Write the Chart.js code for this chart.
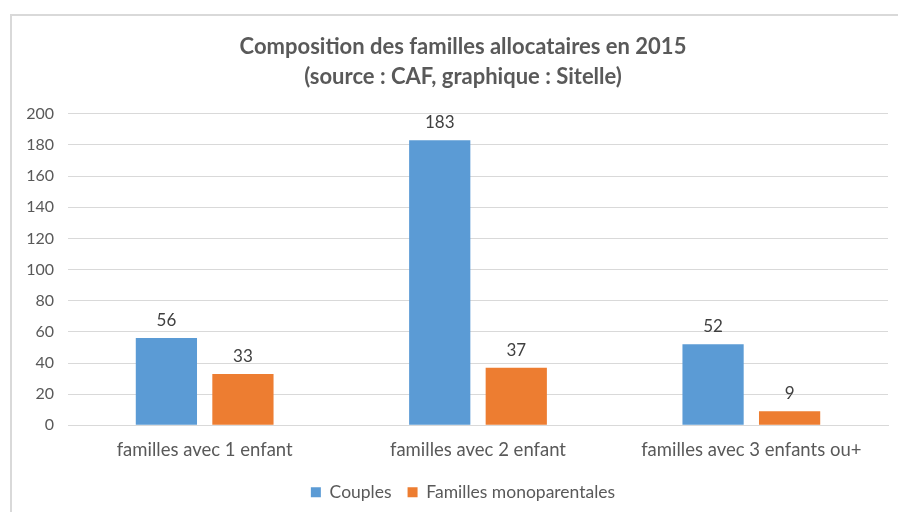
<!DOCTYPE html>
<html>
<head>
<meta charset="utf-8">
<script src="https://cdn.jsdelivr.net/npm/chart.js@4/dist/chart.umd.min.js"></script>
<style>
  body { margin: 0; background: #fff; }
  #wrap { position: relative; width: 898px; height: 512px; }
  #frame { position: absolute; left: 10px; top: 14px; right: 0; bottom: 0; border-left: 2px solid #d9d9d9; border-top: 2px solid #d9d9d9; }
  canvas { position: absolute; left: 0; top: 0; }
</style>
</head>
<body>
<div id="wrap">
  <div id="frame"></div>
  <canvas id="chart" width="898" height="512"></canvas>
</div>
<script>
const categories = ['familles avec 1 enfant', 'familles avec 2 enfant', 'familles avec 3 enfants ou+'];
const couples = [56, 183, 52];
const monoparentales = [33, 37, 9];
const yTicks = [0, 20, 40, 60, 80, 100, 120, 140, 160, 180, 200];

const FONT = 'Lato, "Open Sans", sans-serif';

// value labels above each bar
const barLabels = {
  id: 'barLabels',
  afterDatasetsDraw(chart) {
    const ctx = chart.ctx;
    ctx.save();
    ctx.font = '17px ' + FONT;
    ctx.fillStyle = '#404040';
    ctx.textAlign = 'center';
    ctx.textBaseline = 'bottom';
    chart.data.datasets.forEach((ds, i) => {
      chart.getDatasetMeta(i).data.forEach((bar, j) => {
        ctx.fillText(ds.data[j], bar.x, bar.y - 9);
      });
    });
    ctx.restore();
  }
};

// title and legend are centred a bit right of the canvas centre in the original
const shiftBoxes = {
  id: 'shiftBoxes',
  afterLayout(chart) {
    [chart.titleBlock, chart.legend].forEach(b => {
      if (b) { b.left += 13; b.right += 13; }
    });
  }
};

new Chart(document.getElementById('chart'), {
  type: 'bar',
  data: {
    labels: categories,
    datasets: [
      { label: 'Couples', data: couples, backgroundColor: '#5b9bd5' },
      { label: 'Familles monoparentales', data: monoparentales, backgroundColor: '#ed7d31' }
    ]
  },
  options: {
    responsive: false,
    animation: false,
    layout: { padding: { left: 12, right: 10, top: 8, bottom: 1 } },
    datasets: { bar: { categoryPercentage: 0.56, barPercentage: 0.8 } },
    plugins: {
      title: {
        display: true,
        text: ['Composition des familles allocataires en 2015', '(source : CAF, graphique : Sitelle)'],
        color: '#595959',
        font: { family: FONT, size: 22, weight: 'bold', lineHeight: 1.36 },
        padding: { top: 24, bottom: 22 }
      },
      legend: {
        position: 'bottom',
        labels: {
          color: '#595959',
          font: { family: FONT, size: 17.5 },
          boxWidth: 10,
          boxHeight: 10,
          padding: 16
        }
      },
      tooltip: { enabled: false }
    },
    scales: {
      x: {
        grid: { display: false },
        border: { color: '#d9d9d9' },
        ticks: { color: '#595959', font: { family: FONT, size: 18.5 }, padding: 6 }
      },
      y: {
        min: 0,
        max: 200,
        afterBuildTicks(axis) { axis.ticks = yTicks.map(v => ({ value: v })); },
        afterFit(axis) { axis.width = 56; },
        grid: { color: '#d9d9d9', drawTicks: false },
        border: { display: false },
        ticks: { color: '#595959', font: { family: FONT, size: 16 }, padding: 14 }
      }
    }
  },
  plugins: [barLabels, shiftBoxes]
});
</script>
</body>
</html>
